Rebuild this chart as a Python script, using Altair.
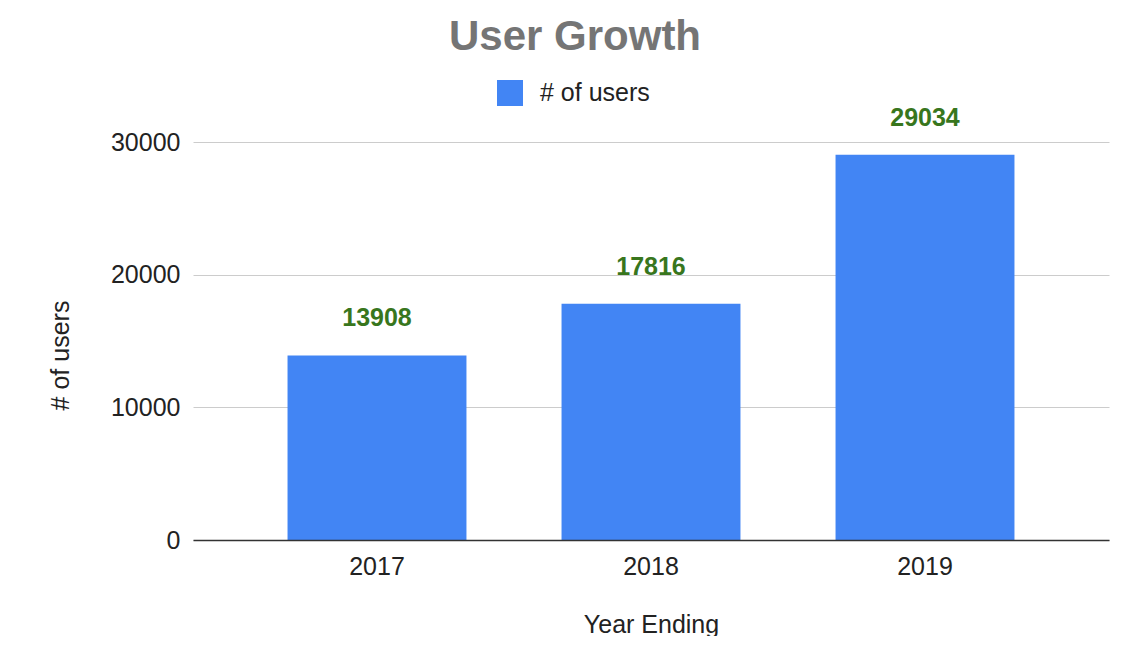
import altair as alt
import pandas as pd

years = ["2017", "2018", "2019"]
users = [13908, 17816, 29034]
series_name = "# of users"

df = pd.DataFrame({"year": years, "users": users, "series": [series_name] * 3})

FONT = "Liberation Sans"

base = alt.Chart(df)

bars = base.mark_bar(color="#4285f4").encode(
    x=alt.X("year:N", title="Year Ending",
            scale=alt.Scale(paddingInner=0.347, paddingOuter=0.345),
            axis=alt.Axis(labelAngle=0, labelFontSize=25, labelColor="#222222",
                          labelPadding=14, ticks=False, domainColor="#333333",
                          domainWidth=1.5, titleFontSize=25, titleFontWeight="normal",
                          titleColor="#222222", titleY=84, titleBaseline="middle",
                          zindex=1)),
    y=alt.Y("users:Q", title="# of users",
            scale=alt.Scale(domain=[0, 30000], nice=False),
            axis=alt.Axis(values=[0, 10000, 20000, 30000], format="d",
                          labelFontSize=25, labelColor="#222222", labelPadding=13,
                          ticks=False, domain=False, gridColor="#cccccc",
                          titleFontSize=25, titleFontWeight="normal",
                          titleColor="#222222", titleX=-133, titleY=213,
                          titleAngle=270, titleAlign="center",
                          titleBaseline="middle")),
    color=alt.Color("series:N", scale=alt.Scale(range=["#4285f4"]),
                    legend=alt.Legend(title=None, orient="none", legendX=304,
                                      legendY=-62, symbolType="square",
                                      symbolSize=676, symbolStrokeWidth=0,
                                      labelFontSize=25, labelColor="#222222",
                                      labelOffset=17, padding=0)),
)

labels = base.mark_text(color="#38761d", fontWeight="bold", fontSize=25,
                        baseline="bottom", dy=-24, font=FONT).encode(
    x="year:N",
    y="users:Q",
    text="users:Q",
)

chart = alt.layer(bars, labels).properties(
    width=916,
    height=398,
    title=alt.TitleParams("User Growth", anchor="middle", dx=-76, dy=-17,
                          fontSize=42, fontWeight="bold", color="#757575",
                          font=FONT),
    autosize=alt.AutoSizeParams(type="none"),
    padding={"left": 185, "top": 134, "right": 20, "bottom": 96},
).configure(font=FONT).configure_view(stroke=None)

chart.save("out.html", embed_options={"renderer": "svg", "actions": False})
